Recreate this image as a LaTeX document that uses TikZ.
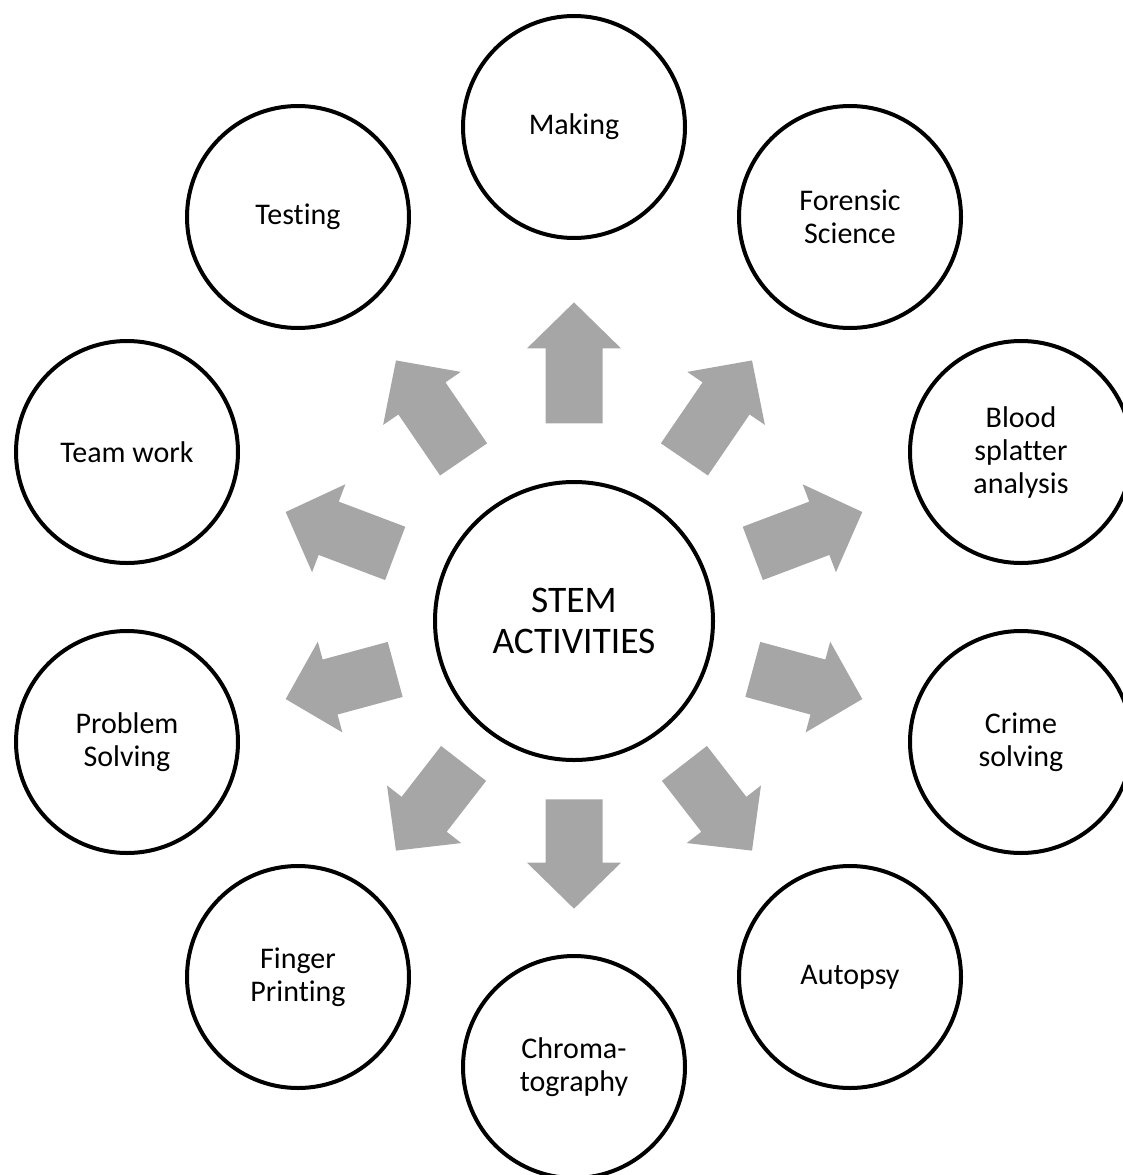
\documentclass[tikz,border=0pt]{standalone}
\usepackage{fontspec}
\setmainfont{Carlito}[Ligatures=CommonOff]
\usetikzlibrary{%
  calc,%
}
\definecolor{arrowgray}{HTML}{A6A6A6}

% block arrow from the hub towards one outer circle
\newcommand{\spoke}[1]{%
  \coordinate (tail) at ($(stem)!0.4!(#1)$);
  \coordinate (tip)  at ($(stem)!0.645!(#1)$);
  \coordinate (neck) at ($(tip)!46pt!(tail)$);
  \fill [arrowgray] ($(tail)!28.5pt!90:(tip)$) -- ($(neck)!28.5pt!-90:(tail)$)
    -- ($(neck)!47pt!-90:(tail)$) -- (tip) -- ($(neck)!47pt!90:(tail)$)
    -- ($(neck)!28.5pt!90:(tail)$) -- ($(tail)!28.5pt!-90:(tip)$) -- cycle;
}

\begin{document}
\begin{tikzpicture}[x=1pt, y=-1pt,
    topic/.style={circle, draw, line width=4pt, minimum size=222pt,
      inner sep=0pt, align=center, font=\fontsize{30}{33}\selectfont},
    hub/.style={topic, minimum size=278pt, font=\fontsize{37.5}{41}\selectfont}]

      \useasboundingbox (0, 0) rectangle (1123, 1175);

      % centre
      \node[hub] (stem) at (574, 621) {STEM\\ACTIVITIES};

      % outer ring
      \node[topic] (making)   at (574, 127)  {Making};
      \node[topic] (forensic) at (850, 217)  {Forensic\\Science};
      \node[topic] (blood)    at (1021, 452) {Blood\\splatter\\analysis};
      \node[topic] (crime)    at (1021, 742) {Crime\\solving};
      \node[topic] (autopsy)  at (850, 977)  {Autopsy};
      \node[topic] (chroma)   at (574, 1067) {Chroma-\\tography};
      \node[topic] (finger)   at (298, 977)  {Finger\\Printing};
      \node[topic] (problem)  at (127, 742)  {Problem\\Solving};
      \node[topic] (team)     at (127, 452)  {Team work};
      \node[topic] (testing)  at (298, 217)  {Testing};

      % arrows
      \spoke{making}
      \spoke{forensic}
      \spoke{blood}
      \spoke{crime}
      \spoke{autopsy}
      \spoke{chroma}
      \spoke{finger}
      \spoke{problem}
      \spoke{team}
      \spoke{testing}

\end{tikzpicture}
\end{document}
